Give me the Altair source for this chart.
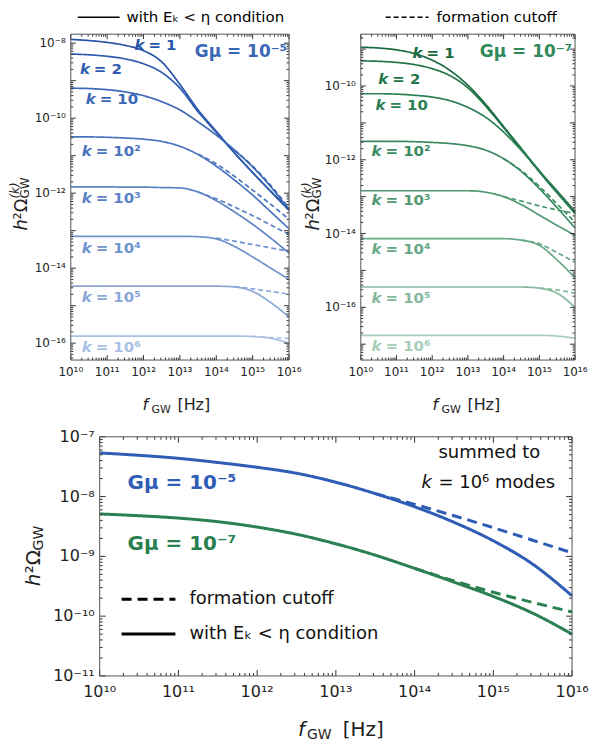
import altair as alt
import pandas as pd

FONT = "DejaVu Sans"
INK = "#222222"

# ---------------- data (log10 values) ----------------
LOGF = [10.0, 10.5, 11.0, 11.5, 12.0, 12.5, 13.0, 13.5, 14.0, 14.5, 15.0, 15.5, 16.0]
K_LABELS = ["1", "2", "10", "10²", "10³", "10⁴", "10⁵", "10⁶"]

# G mu = 1e-5 : log10(h^2 Omega^(k)) on LOGF
GM5_SOLID = {
    "1":   [-7.90, -7.93, -7.98, -8.06, -8.20, -8.50, -9.10, -9.78, -10.35, -10.92, -11.45, -11.95, -12.42],
    "2":   [-8.29, -8.31, -8.35, -8.42, -8.55, -8.78, -9.20, -9.83, -10.38, -10.93, -11.45, -11.96, -12.46],
    "10":  [-9.20, -9.21, -9.24, -9.30, -9.40, -9.56, -9.78, -10.10, -10.45, -10.85, -11.30, -11.83, -12.45],
    "10²": [-10.50, -10.50, -10.51, -10.53, -10.56, -10.62, -10.75, -10.97, -11.28, -11.65, -12.05, -12.50, -12.95],
    "10³": [-11.83, -11.83, -11.83, -11.84, -11.84, -11.85, -11.86, -11.97, -12.20, -12.50, -12.83, -13.20, -13.60],
    "10⁴": [-13.15, -13.15, -13.15, -13.15, -13.15, -13.15, -13.15, -13.16, -13.22, -13.42, -13.70, -14.00, -14.30],
    "10⁵": [-14.48, -14.48, -14.48, -14.48, -14.48, -14.48, -14.48, -14.48, -14.48, -14.50, -14.62, -14.92, -15.30],
    "10⁶": [-15.81, -15.81, -15.81, -15.81, -15.81, -15.81, -15.81, -15.81, -15.81, -15.81, -15.82, -15.87, -16.00],
}
GM5_DASHED = {
    "10":  [None] * 9 + [-10.85, -11.28, -11.80, -12.40],
    "10²": [None] * 7 + [-10.96, -11.22, -11.55, -11.92, -12.30, -12.70],
    "10³": [None] * 7 + [-11.97, -12.15, -12.37, -12.60, -12.85, -13.10],
    "10⁴": [None] * 8 + [-13.20, -13.28, -13.37, -13.46, -13.55],
    "10⁵": [None] * 9 + [-14.49, -14.55, -14.62, -14.69],
    "10⁶": [None] * 10 + [-15.82, -15.85, -15.87],
}
# G mu = 1e-7
GM7_SOLID = {
    "1":   [-8.95, -8.97, -9.02, -9.12, -9.30, -9.58, -9.98, -10.50, -11.10, -11.70, -12.30, -12.85, -13.40],
    "2":   [-9.32, -9.33, -9.36, -9.42, -9.53, -9.72, -10.05, -10.55, -11.13, -11.73, -12.33, -12.90, -13.45],
    "10":  [-10.21, -10.21, -10.22, -10.25, -10.30, -10.40, -10.58, -10.85, -11.25, -11.75, -12.30, -12.88, -13.45],
    "10²": [-11.50, -11.50, -11.50, -11.51, -11.53, -11.56, -11.62, -11.74, -11.97, -12.32, -12.78, -13.30, -13.85],
    "10³": [-12.84, -12.84, -12.84, -12.84, -12.84, -12.84, -12.84, -12.88, -13.00, -13.22, -13.50, -13.78, -14.05],
    "10⁴": [-14.14, -14.14, -14.14, -14.14, -14.14, -14.14, -14.14, -14.14, -14.14, -14.18, -14.32, -14.72, -15.20],
    "10⁵": [-15.45, -15.45, -15.45, -15.45, -15.45, -15.45, -15.45, -15.45, -15.45, -15.45, -15.48, -15.62, -16.00],
    "10⁶": [-16.76, -16.76, -16.76, -16.76, -16.76, -16.76, -16.76, -16.76, -16.76, -16.76, -16.76, -16.78, -16.84],
}
GM7_DASHED = {
    "10²": [None] * 8 + [-11.97, -12.30, -12.72, -13.20, -13.70],
    "10³": [None] * 8 + [-13.00, -13.12, -13.25, -13.36, -13.46],
    "10⁴": [None] * 9 + [-14.18, -14.28, -14.52, -14.78],
    "10⁵": [None] * 10 + [-15.48, -15.53, -15.62],
}
# summed spectra (bottom panel)
SUM_GM5_SOLID = [-7.27, -7.31, -7.36, -7.43, -7.51, -7.61, -7.76, -7.95, -8.17, -8.43, -8.74, -9.13, -9.66]
SUM_GM5_DASHED = [None] * 7 + [-7.95, -8.13, -8.32, -8.52, -8.73, -8.94]
SUM_GM7_SOLID = [-8.29, -8.32, -8.36, -8.42, -8.51, -8.63, -8.79, -8.98, -9.20, -9.43, -9.67, -9.95, -10.30]
SUM_GM7_DASHED = [None] * 8 + [-9.20, -9.41, -9.60, -9.77, -9.93]

# label anchor points (log10 f, log10 Omega)
GM5_LAB_F = [11.75, 10.25, 10.41, 10.30, 10.30, 10.30, 10.30, 10.30]
GM5_LAB_L = [-8.05, -8.69, -9.49, -10.88, -12.13, -13.47, -14.77, -16.11]
GM7_LAB_F = [11.45, 10.49, 10.41, 10.30, 10.30, 10.30, 10.30, 10.30]
GM7_LAB_L = [-9.11, -9.81, -10.51, -11.76, -13.08, -14.43, -15.76, -17.05]

BLUES = ["#2753a8", "#2f5cb0", "#3b67b6", "#4a74bd", "#5b82c4", "#6f92cc", "#8aa7d7", "#a9c0e3"]
GREENS = ["#1a6a42", "#217549", "#2b7f54", "#3b8b62", "#4f9872", "#67a886", "#84b99c", "#a6cdb6"]
SUM_BLUE = "#2f5cb5"
SUM_GREEN = "#2a8050"

# ---------------- helpers ----------------
SUP = str.maketrans("-0123456789", "⁻⁰¹²³⁴⁵⁶⁷⁸⁹")
ONE = pd.DataFrame({"a": [0]})


def pow_label(e):
    return "10" + str(e).translate(SUP)


def tick_vals(lo, hi):
    maj, mnr = [], []
    for n in range(int(lo) - 2, int(hi) + 1):
        for m in range(1, 10):
            v = m * 10.0 ** n
            if 10 ** lo * 0.999 <= v <= 10 ** hi * 1.001:
                (maj if m == 1 else mnr).append(v)
    return maj, mnr


def vtext(text, x, y, size, **kw):
    kw.setdefault("color", INK)
    return alt.Chart(ONE).mark_text(text=text, fontSize=size, font=FONT, **kw).encode(
        x=alt.value(x), y=alt.value(y))


def vrule(x1, x2, y, width, dash=None):
    kw = dict(strokeWidth=width, color="black")
    if dash:
        kw["strokeDash"] = dash
    return alt.Chart(ONE).mark_rule(**kw).encode(x=alt.value(x1), x2=alt.value(x2), y=alt.value(y))


def frame_layers(xr, yr, ydom, ylab_exps, fs, xgap, ygap, lmaj, lmin):
    xs = alt.Scale(type="log", domain=[1e10, 1e16], range=xr, nice=False)
    ys = alt.Scale(type="log", domain=[10 ** ydom[0], 10 ** ydom[1]], range=yr, nice=False)
    X = lambda f: alt.X(f"{f}:Q", scale=xs, axis=None)
    Y = lambda f: alt.Y(f"{f}:Q", scale=ys, axis=None)
    left, right = xr
    bottom, top = yr
    layers = []
    xmaj, xmin = tick_vals(10, 16)
    ymaj, ymin = tick_vals(ydom[0], ydom[1])
    for vals, ln in ((xmaj, lmaj), (xmin, lmin)):
        d = pd.DataFrame({"v": vals})
        layers.append(alt.Chart(d).mark_rule(color="#333", strokeWidth=1).encode(
            x=X("v"), y=alt.value(bottom), y2=alt.value(bottom - ln)))
        layers.append(alt.Chart(d).mark_rule(color="#333", strokeWidth=1).encode(
            x=X("v"), y=alt.value(top), y2=alt.value(top + ln)))
    for vals, ln in ((ymaj, lmaj), (ymin, lmin)):
        d = pd.DataFrame({"v": vals})
        layers.append(alt.Chart(d).mark_rule(color="#333", strokeWidth=1).encode(
            y=Y("v"), x=alt.value(left), x2=alt.value(left + ln)))
        layers.append(alt.Chart(d).mark_rule(color="#333", strokeWidth=1).encode(
            y=Y("v"), x=alt.value(right), x2=alt.value(right - ln)))
    xl = pd.DataFrame({"v": [10.0 ** e for e in range(10, 17)], "t": [pow_label(e) for e in range(10, 17)]})
    layers.append(alt.Chart(xl).mark_text(align="center", baseline="top", fontSize=fs, font=FONT, color=INK).encode(
        x=X("v"), y=alt.value(bottom + xgap), text="t:N"))
    yl = pd.DataFrame({"v": [10.0 ** e for e in ylab_exps], "t": [pow_label(e) for e in ylab_exps]})
    layers.append(alt.Chart(yl).mark_text(align="right", baseline="middle", fontSize=fs, font=FONT, color=INK).encode(
        y=Y("v"), x=alt.value(left - ygap), text="t:N"))
    sp = pd.DataFrame({"x1": [1e10], "x2": [1e16], "y1": [10 ** ydom[0]], "y2": [10 ** ydom[1]]})
    layers.append(alt.Chart(sp).mark_rect(fillOpacity=0, stroke="#555", strokeWidth=1).encode(
        x=X("x1"), x2="x2:Q", y=Y("y1"), y2="y2:Q"))
    return X, Y, layers


def curves(solid, dashed):
    rows = []
    for style, table in (("solid", solid), ("dashed", dashed)):
        for k, vals in table.items():
            for lf, v in zip(LOGF, vals):
                if v is not None:
                    rows.append({"k": k, "style": style, "f": 10 ** lf, "om": 10 ** v})
    return pd.DataFrame(rows)


def top_panel(xr, solid, dashed, colors, lab_f, lab_l, gm_text, gm_color, gm_x, ydom, ylabs, ytx):
    yr = [352, 25]
    X, Y, layers = frame_layers(xr, yr, ydom, ylabs, 12, 7, 5, 5, 2.5)
    color = alt.Color("k:N", scale=alt.Scale(domain=K_LABELS, range=colors), legend=None)
    lines = alt.Chart(curves(solid, dashed)).mark_line(strokeWidth=1.7, interpolate="monotone").encode(
        x=X("f"), y=Y("om"), color=color,
        strokeDash=alt.StrokeDash("style:N", scale=alt.Scale(domain=["solid", "dashed"], range=[[1, 0], [5, 3]]),
                                  legend=None))
    lab = pd.DataFrame({"k": K_LABELS, "f": [10 ** v for v in lab_f], "om": [10 ** v for v in lab_l],
                        "rest": ["= " + k for k in K_LABELS]})
    klab = alt.Chart(lab).mark_text(align="left", baseline="middle", fontStyle="italic", fontWeight="bold",
                                    fontSize=15, font=FONT).encode(x=X("f"), y=Y("om"), text=alt.value("k"), color=color)
    rlab = alt.Chart(lab).mark_text(align="left", baseline="middle", fontWeight="bold", dx=14,
                                    fontSize=15, font=FONT).encode(x=X("f"), y=Y("om"), text="rest:N", color=color)
    gm = vtext(gm_text, gm_x, 43, 17, align="right", baseline="middle", fontWeight="bold", color=gm_color)
    left = xr[0]
    titles = [
        vtext("h", ytx, 222, 18, angle=270, align="left", baseline="alphabetic", fontStyle="italic"),
        vtext("²Ω", ytx, 211, 18, angle=270, align="left", baseline="alphabetic"),
        vtext("GW", ytx + 2, 190, 12, angle=270, align="left", baseline="alphabetic"),
        vtext("(k)", ytx - 8, 190, 12, angle=270, align="left", baseline="alphabetic", fontStyle="italic"),
        vtext("f", left + 72, 402, 16, align="left", baseline="alphabetic", fontStyle="italic"),
        vtext("GW", left + 81, 405, 11, align="left", baseline="alphabetic"),
        vtext("[Hz]", left + 107, 402, 16, align="left", baseline="alphabetic"),
    ]
    return [lines, klab, rlab, gm] + layers + titles


TL_X = [63, 282]
TR_X = [354, 569]
tl_layers = top_panel(TL_X, GM5_SOLID, GM5_DASHED, BLUES, GM5_LAB_F, GM5_LAB_L, "Gμ = 10⁻⁵", "#3a66b8", 280,
                      (-16.45, -7.76), [-16, -14, -12, -10, -8], 19)
tr_layers = top_panel(TR_X, GM7_SOLID, GM7_DASHED, GREENS, GM7_LAB_F, GM7_LAB_L, "Gμ = 10⁻⁷", "#2f8a5a", 566,
                      (-17.43, -8.595), [-16, -14, -12, -10], 312)

# legends above the top panels
top_legend = [
    vrule(70, 112, 8, 1.6),
    vtext("with Eₖ < η condition", 119, 8, 15, align="left", baseline="middle", color="black"),
    vrule(379, 422, 8, 1.6, [5, 3]),
    vtext("formation cutoff", 430, 8, 15, align="left", baseline="middle", color="black"),
]

# ---------------- bottom panel ----------------
B_X = [92, 566]
B_Y = [669, 429]
BX, BY, b_layers = frame_layers(B_X, B_Y, (-11, -7), [-11, -10, -9, -8, -7], 16, 8, 5, 6, 3)
rows = []
for name, sol, das in (("Gμ = 10⁻⁵", SUM_GM5_SOLID, SUM_GM5_DASHED), ("Gμ = 10⁻⁷", SUM_GM7_SOLID, SUM_GM7_DASHED)):
    for style, vals in (("solid", sol), ("dashed", das)):
        for lf, v in zip(LOGF, vals):
            if v is not None:
                rows.append({"g": name, "style": style, "f": 10 ** lf, "om": 10 ** v})
sum_lines = alt.Chart(pd.DataFrame(rows)).mark_line(strokeWidth=3, interpolate="monotone").encode(
    x=BX("f"), y=BY("om"),
    color=alt.Color("g:N", scale=alt.Scale(domain=["Gμ = 10⁻⁵", "Gμ = 10⁻⁷"], range=[SUM_BLUE, SUM_GREEN]),
                    legend=None),
    strokeDash=alt.StrokeDash("style:N", scale=alt.Scale(domain=["solid", "dashed"], range=[[1, 0], [10, 6]]),
                              legend=None),
)
bot_texts = [
    vtext("Gμ = 10⁻⁵", 120, 475, 20, align="left", baseline="middle", fontWeight="bold", color=SUM_BLUE),
    vtext("Gμ = 10⁻⁷", 120, 537, 20, align="left", baseline="middle", fontWeight="bold", color=SUM_GREEN),
    vtext("summed to", 432, 445, 18, align="left", baseline="middle", color="#111"),
    vtext("k", 415, 475, 18, align="left", baseline="middle", fontStyle="italic", color="#111"),
    vtext("= 10⁶ modes", 432, 475, 18, align="left", baseline="middle", color="#111"),
    vrule(114, 168, 592, 3, [10, 6]),
    vtext("formation cutoff", 182, 592, 18, align="left", baseline="middle", color="#111"),
    vrule(114, 168, 627, 3),
    vtext("with Eₖ < η condition", 182, 627, 18, align="left", baseline="middle", color="#111"),
    vtext("h", 32, 579, 20, angle=270, align="left", baseline="alphabetic", fontStyle="italic"),
    vtext("²Ω", 32, 566, 20, angle=270, align="left", baseline="alphabetic"),
    vtext("GW", 35, 543, 14, angle=270, align="left", baseline="alphabetic"),
    vtext("f", 291, 729, 20, align="left", baseline="alphabetic", fontStyle="italic"),
    vtext("GW", 300, 732, 14, align="left", baseline="alphabetic"),
    vtext("[Hz]", 336, 729, 20, align="left", baseline="alphabetic"),
]

all_layers = tl_layers + tr_layers + top_legend + [sum_lines] + b_layers + bot_texts
chart = alt.layer(*all_layers).resolve_scale(
    x="independent", y="independent", color="independent", strokeDash="independent"
).properties(width=581, height=735, padding=0).configure_view(stroke=None)

chart.save("out.html", embed_options={"renderer": "svg", "actions": False})
